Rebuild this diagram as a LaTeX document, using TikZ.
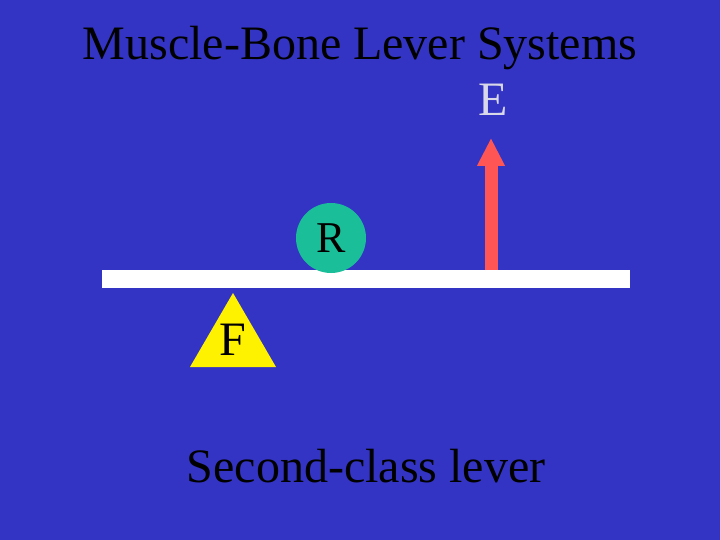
\documentclass[tikz,border=0pt]{standalone}
\usepackage{fontspec}
\setmainfont{Liberation Serif}
\usetikzlibrary{arrows.meta}
\definecolor{bg}{HTML}{3333C4}
\definecolor{teal}{HTML}{1ABF9A}
\definecolor{arr}{HTML}{FF5555}
\definecolor{egray}{HTML}{D8D8E8}
\begin{document}
\begin{tikzpicture}[x=1pt,y=-1pt,
  lbl/.style={inner sep=0pt,font=\fontsize{48}{52}\selectfont}]
\fill[bg] (0,0) rectangle (720,540);
\useasboundingbox (0,0) rectangle (720,540);
\node[lbl] (title) at (360,48) {Muscle-Bone Lever Systems};
\node[lbl,text=egray] (E) at (493,100) {E};
\fill[white] (102,270) rectangle (630,288);
\node[circle,fill=teal,minimum size=70pt,inner sep=0pt,font=\fontsize{44}{48}\selectfont] (R) at (331,238) {R};
\coordinate (abase) at (491,270);
\coordinate (atip) at (491,138);
\draw[arr,line width=13pt,-{Triangle[length=28pt,width=26pt]}] (abase) -- (atip);
\fill[yellow] (233,293) -- (276,367) -- (190,367) -- cycle;
\node[lbl] (F) at (233,340) {F};
\node[lbl] (cap) at (366,466) {Second-class lever};
\end{tikzpicture}
\end{document}
